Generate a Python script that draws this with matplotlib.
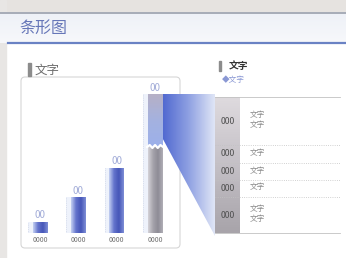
import numpy as np
import matplotlib.pyplot as plt
from matplotlib.patches import Rectangle, FancyBboxPatch, Polygon
from matplotlib.colors import LinearSegmentedColormap

plt.rcParams['font.family'] = ['Noto Sans CJK SC', 'DejaVu Sans']

# data
title = '条形图'
section_left = '文字'
section_right = '文字'
sub_right = '◆文字'
categories = ['0000', '0000', '0000', '0000']
bar_values = [11, 36, 65, 139]
bar_labels = ['00', '00', '00', '00']
table_nums = ['000', '000', '000', '000', '000']
table_texts = ['文字\n文字', '文字', '文字', '文字', '文字\n文字']

W, H = 346, 258
fig = plt.figure(figsize=(W / 100, H / 100), dpi=100)
bg = fig.add_axes([0, 0, 1, 1])
bg.set_xlim(0, W)
bg.set_ylim(H, 0)
bg.axis('off')


def grad(ax, extent, colors, clip, horizontal=True, z=2):
    cm = LinearSegmentedColormap.from_list('g', colors)
    g = np.linspace(0, 1, 64)
    img = g[None, :] if horizontal else g[:, None]
    im = ax.imshow(img, cmap=cm, extent=extent, aspect='auto',
                   interpolation='bilinear', zorder=z)
    im.set_clip_path(clip)
    return im


# page background
bg.add_patch(Rectangle((0, 0), W, H, color='white', zorder=0))
bg.add_patch(Rectangle((0, 0), W, 12, color='#e6e3e0', zorder=1))
bg.add_patch(Rectangle((0, 0), 6, H, color='#e8e6e4', zorder=1))
band = Rectangle((0, 12), W, 31, color='none', zorder=1)
bg.add_patch(band)
grad(bg, (0, W, 43, 12), ['#eef1f7', '#f7f8fb'], band, horizontal=False, z=1)
bg.plot([0, W], [12.5, 12.5], color='#9aa0ac', lw=1.2, zorder=3)
bg.plot([8, W], [43, 43], color='#6a82c4', lw=1.6, zorder=3)
bg.text(19, 28, title, fontsize=11.5, color='#6676b8', va='center', ha='left', zorder=4)

# left section header
bg.add_patch(Rectangle((28, 63), 3, 13, color='#8c8c8c', zorder=3))
bg.text(35, 70, section_left, fontsize=9, color='#6e6e6e', va='center', ha='left', zorder=4)
bg.add_patch(FancyBboxPatch((21, 77), 159, 171, boxstyle='round,pad=0,rounding_size=4',
                            fc='white', ec='#d6d6d6', lw=0.8, zorder=1))

# bar chart axes (x 21..180 px, baseline at y 233, top at y 77)
ax = fig.add_axes([21 / W, (H - 233) / H, 159 / W, 156 / H])
ax.set_xlim(-0.496, 3.65)
ax.set_ylim(0, 156)
ax.axis('off')
x = np.arange(len(bar_values))
bars = ax.bar(x, bar_values, width=0.38, color='none', zorder=3)
for i, b in enumerate(bars):
    x0, w, h = b.get_x(), b.get_width(), b.get_height()
    # pale shadow with dotted edge
    ax.add_patch(Rectangle((x0 - 0.12, 0), 0.2, h, fc='#eef2fb', ec='none', zorder=2))
    ax.plot([x0 - 0.12, x0 - 0.12], [0, h], color='#c6cde0', lw=0.5, ls=':', zorder=2)
    if i < len(bar_values) - 1:
        grad(ax, (x0, x0 + w, 0, h), ['#c4d0f2', '#6474cc', '#4656b8', '#7e8ed6'], b, z=3)
    else:
        lower = Rectangle((x0, 0), w, h, fc='none', ec='none')
        ax.add_patch(lower)
        grad(ax, (x0, x0 + w, 0, h), ['#d4d2d8', '#a6a4ac', '#8e8c96', '#b0aeb6'], lower, z=3)
        upper = Rectangle((x0, 86), w, h - 86, fc='none', ec='none')
        ax.add_patch(upper)
        grad(ax, (x0, x0 + w, 86, h), ['#b6b0c6', '#a4b2e0', '#9cb0ea'], upper,
             horizontal=False, z=4)
        zx = np.linspace(x0 - 0.02, x0 + w + 0.02, 7)
        zy = 86 + np.array([0, 2, -1, 2, -1, 2, 0])
        ax.plot(zx, zy, color='white', lw=1.6, zorder=5)
    ax.text(x[i], h + 1.5, bar_labels[i], ha='center', va='bottom', fontsize=7,
            color='#a2acd8', zorder=6)
    ax.text(x[i], -3, categories[i], ha='center', va='top', fontsize=5,
            color='#707070', zorder=6)
ax.plot([-0.3, 3.4], [0, 0], color='#c8c8c8', lw=0.6, zorder=1)

# fan from the tall bar to the table
last = bars[-1]
px, py = (bg.transData.inverted().transform(
    ax.transData.transform((last.get_x() + last.get_width(), last.get_height()))))
fan = Polygon([(px, py), (215, py), (215, 236), (px, py + 44)], closed=True,
              fc='none', ec='none', zorder=2)
bg.add_patch(fan)
grad(bg, (px, 215, 236, py), ['#5068d0', '#8ea0e2', '#dfe5f6'], fan, z=2)

# right section header
bg.add_patch(Rectangle((219, 61), 2.2, 10, color='#8c8c8c', zorder=3))
bg.text(229, 66, section_right, fontsize=7, color='#333333', fontweight='bold',
        va='center', ha='left', zorder=4)
bg.text(222, 80, sub_right, fontsize=5.5, color='#8a98d4', va='center', ha='left', zorder=4)

# table
edges = [97, 145, 163, 180, 197, 233]
col = Rectangle((215, edges[0]), 25, edges[-1] - edges[0], fc='none', ec='none')
bg.add_patch(col)
grad(bg, (215, 240, edges[-1], edges[0]), ['#dedade', '#c4c0c6', '#a8a4aa'], col,
     horizontal=False, z=3)
for k in range(len(table_nums)):
    yc = (edges[k] + edges[k + 1]) / 2
    bg.text(228, yc, table_nums[k], fontsize=6.3, color='#505050', ha='center',
            va='center', zorder=5)
    bg.text(250, yc - 1, table_texts[k], fontsize=5.5, color='#8a8a8a', ha='left',
            va='center', linespacing=1.5, zorder=5)
for k, e in enumerate(edges):
    ls = '-' if k in (0, len(edges) - 1) else ':'
    bg.plot([215, 340], [e, e], color='#c2c2c2', lw=0.6, ls=ls, zorder=4)

fig.savefig('out.png', dpi=100)
